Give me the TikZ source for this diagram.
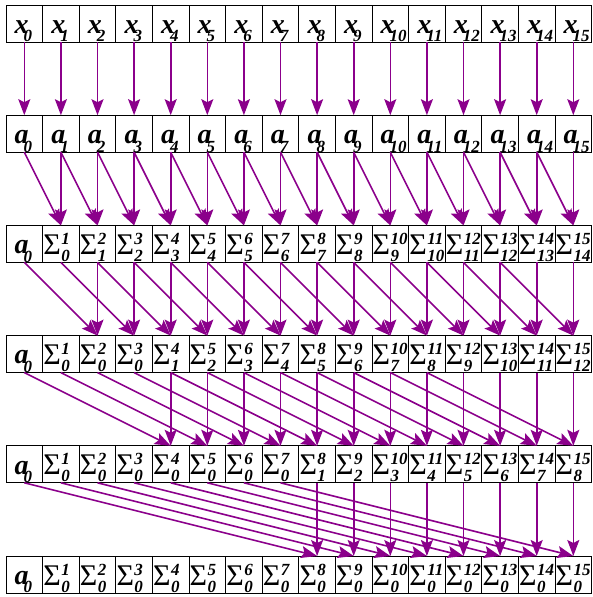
\documentclass[tikz,border=0pt]{standalone}
\usepackage{fontspec}
\setmainfont{Liberation Serif}
\usetikzlibrary{arrows.meta}
\definecolor{flowpurple}{RGB}{139,0,139}
\newcommand{\idxfont}{\fontsize{17}{17}\selectfont\bfseries\itshape}
\newcommand{\varcell}[2]{#1\kern-5pt\raisebox{-8.5pt}{\idxfont #2}}
\newcommand{\sumcell}[2]{Σ\kern0.5pt\rlap{\raisebox{10pt}{\idxfont #1}}\raisebox{-7pt}{\idxfont #2}}
\tikzset{
  cell/.style={draw, line width=0.8pt, minimum width=36.6pt, minimum height=37pt, inner sep=0pt, outer sep=0pt, anchor=north west},
  var/.style={font=\fontsize{28}{28}\selectfont\bfseries\itshape, inner sep=0pt, anchor=base west},
  sig/.style={font=\fontsize{30}{30}\selectfont, inner sep=0pt, anchor=base west},
  flow/.style={draw=flowpurple, line width=1.6pt, -{Stealth[length=16pt, width=12pt, inset=3pt]}},
}
\begin{document}
\begin{tikzpicture}[x=1pt, y=-1pt]
    \useasboundingbox (0,0) rectangle (593,597);

    % Cells
    \foreach \r in {0,...,5} {
      \foreach \i in {0,...,15} {
        \node[cell] (c\r-\i) at ({6+36.6*\i},{5+110.2*\r}) {};
      }
    }

    % Inputs x and copies a
    \foreach \r/\v in {0/x,1/a} {
      \foreach \i in {0,...,15} {
        \node[var] (v\r-\i) at ({14.5+36.6*\i},{33.3+110.2*\r}) {\varcell{\v}{\i}};
      }
    }

    % Partial sums
    \foreach \r/\w in {2/1,3/3,4/7,5/15} {
      \node[var] (v\r-0) at (14.5,{33.3+110.2*\r}) {\varcell{a}{0}};
      \foreach \i in {1,...,15} {
        \pgfmathtruncatemacro{\lo}{max(0,\i-\w)}
        \node[sig] (g\r-\i) at ({6.5+36.6*\i},{34+110.2*\r}) {\sumcell{\i}{\lo}};
      }
    }

    % Copy arrows x -> a
    \foreach \i in {0,...,15} \draw[flow] (c0-\i.south) -- (c1-\i.north);

    % Scan steps
    \foreach \r/\d in {1/1,2/2,3/4,4/8} {
      \pgfmathtruncatemacro{\s}{\r+1}
      \foreach \i in {\d,...,15} {
        \pgfmathtruncatemacro{\j}{\i-\d}
        \draw[flow] (c\r-\i.south) -- (c\s-\i.north);
        \draw[flow] (c\r-\j.south) -- (c\s-\i.north);
      }
    }
\end{tikzpicture}
\end{document}
